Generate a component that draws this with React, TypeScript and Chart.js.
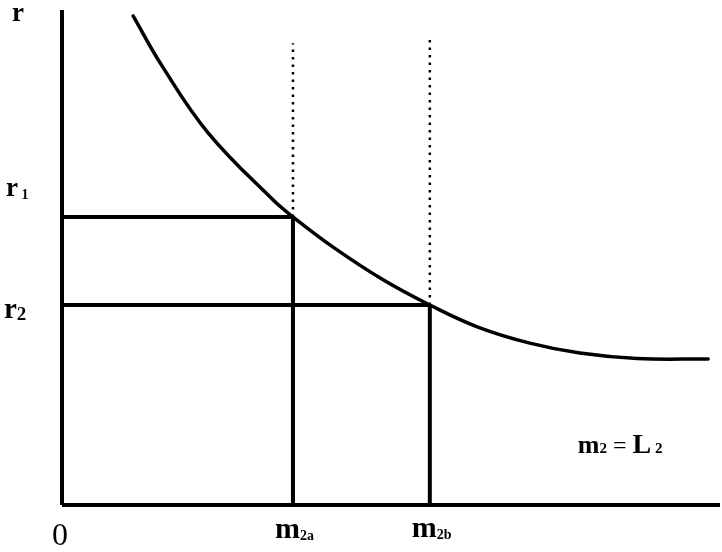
import React, { useEffect, useRef } from "react";
import { Chart, registerables } from "chart.js";

Chart.register(...registerables);

// Money-demand curve, in abstract units 0..10
const curveX = [1.08, 1.53, 2.22, 3.21, 3.51, 4.12, 4.88, 5.59, 6.31, 7.11, 7.87, 8.74, 9.82];
const curveY = [9.88, 8.85, 7.52, 6.16, 5.82, 5.21, 4.55, 4.04, 3.6, 3.27, 3.07, 2.96, 2.95];

// Levels
const rLevels = [5.82, 4.04]; // r1, r2
const mLevels = [3.51, 5.59]; // m2a, m2b
const dottedTops = [9.33, 9.49];
const axisMax = [10, 10]; // x max, y max

// Labels
const rLabels = [["r", "1"], ["r", "2"]];
const mLabels = [["m", "2a"], ["m", "2b"]];
const originLabel = "0";
const yAxisLabel = "r";
const eqParts = ["m", "2", " = ", "L", "2"];
const eqPos = [7.84, 1.05];

const SERIF = "'Liberation Serif', 'DejaVu Serif', serif";

function drawParts(ctx: CanvasRenderingContext2D, x: number, y: number, parts: { t: string; size: number; dy: number; bold?: boolean }[]) {
  let cx = x;
  for (const p of parts) {
    ctx.font = `${p.bold === false ? "" : "bold "}${p.size}px ${SERIF}`;
    ctx.fillText(p.t, cx, y + p.dy);
    cx += ctx.measureText(p.t).width;
  }
}

const labelPlugin = {
  id: "labels",
  afterDraw(chart: any) {
    const ctx: CanvasRenderingContext2D = chart.ctx;
    const xs = chart.scales.x;
    const ys = chart.scales.y;
    ctx.save();
    ctx.fillStyle = "#000";
    ctx.textBaseline = "alphabetic";
    ctx.textAlign = "left";
    // y axis title
    drawParts(ctx, 12, ys.getPixelForValue(axisMax[1]) + 11, [{ t: yAxisLabel, size: 27, dy: 0 }]);
    // r1
    drawParts(ctx, 6, ys.getPixelForValue(rLevels[0]) - 21, [
      { t: rLabels[0][0], size: 27, dy: 0 },
      { t: " " + rLabels[0][1], size: 14, dy: 3 },
    ]);
    // r2
    drawParts(ctx, 4, ys.getPixelForValue(rLevels[1]) + 13, [
      { t: rLabels[1][0], size: 29, dy: 0 },
      { t: rLabels[1][1], size: 19, dy: 2 },
    ]);
    // origin
    ctx.font = `32px ${SERIF}`;
    ctx.textAlign = "center";
    ctx.fillText(originLabel, xs.getPixelForValue(0) - 2, ys.getPixelForValue(0) + 40);
    ctx.textAlign = "left";
    // m2a, m2b
    mLabels.forEach((lab, i) => {
      drawParts(ctx, xs.getPixelForValue(mLevels[i]) - 18, ys.getPixelForValue(0) + 33 - i, [
        { t: lab[0], size: 30, dy: 0 },
        { t: lab[1], size: 14, dy: 2 },
      ]);
    });
    // m2 = L2
    drawParts(ctx, xs.getPixelForValue(eqPos[0]), ys.getPixelForValue(eqPos[1]), [
      { t: eqParts[0], size: 26, dy: 0 },
      { t: eqParts[1], size: 15, dy: 0 },
      { t: eqParts[2], size: 24, dy: 0, bold: false },
      { t: eqParts[3], size: 28, dy: 0 },
      { t: " " + eqParts[4], size: 15, dy: 0 },
    ]);
    ctx.restore();
  },
};

function seg(a: [number, number], b: [number, number]) {
  return [
    { x: a[0], y: a[1] },
    { x: b[0], y: b[1] },
  ];
}

export default function App() {
  const ref = useRef<HTMLCanvasElement | null>(null);
  useEffect(() => {
    if (!ref.current) return;
    const solid = (data: any[], w: number) => ({
      data,
      borderColor: "#000",
      borderWidth: w,
      pointRadius: 0,
      fill: false,
      clip: false as any,
      tension: 0,
    });
    const dotted = (data: any[]) => ({
      ...solid(data, 2.5),
      borderDash: [2.5, 5],
    });
    const chart = new Chart(ref.current, {
      type: "line",
      data: {
        datasets: [
          {
            ...solid(curveX.map((x, i) => ({ x, y: curveY[i] })), 3.5),
            tension: 0.4,
            borderCapStyle: "round",
          } as any,
          solid(seg([0, 0], [0, axisMax[1]]), 4),
          solid(seg([0, 0], [axisMax[0], 0]), 4),
          solid(seg([0, rLevels[0]], [mLevels[0], rLevels[0]]), 4),
          solid(seg([0, rLevels[1]], [mLevels[1], rLevels[1]]), 4),
          solid(seg([mLevels[0], 0], [mLevels[0], rLevels[0]]), 4),
          solid(seg([mLevels[1], 0], [mLevels[1], rLevels[1]]), 4),
          dotted(seg([mLevels[0], rLevels[0]], [mLevels[0], dottedTops[0]])),
          dotted(seg([mLevels[1], rLevels[1]], [mLevels[1], dottedTops[1]])),
        ],
      },
      options: {
        animation: false,
        responsive: false,
        layout: { padding: { left: 62, right: 2, top: 10, bottom: 47 } },
        scales: {
          x: { type: "linear", min: 0, max: axisMax[0], display: false },
          y: { type: "linear", min: 0, max: axisMax[1], display: false },
        },
        plugins: { legend: { display: false }, tooltip: { enabled: false }, title: { display: false } },
      },
      plugins: [labelPlugin],
    });
    return () => chart.destroy();
  }, []);
  return (
    <div style={{ position: "absolute", left: 0, top: 0, width: 722, height: 552, background: "#fff" }}>
      <canvas ref={ref} width={722} height={552} style={{ display: "block" }} />
    </div>
  );
}
